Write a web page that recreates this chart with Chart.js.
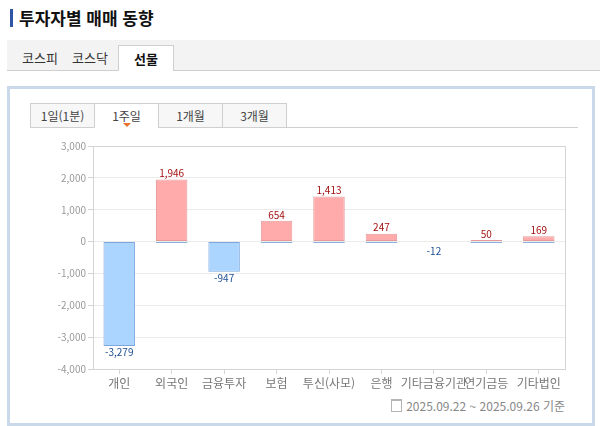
<!DOCTYPE html>
<html lang="ko">
<head>
<meta charset="utf-8">
<script src="https://cdn.jsdelivr.net/npm/chart.js@4"></script>
<style>
  body { margin: 0; width: 600px; height: 426px; overflow: hidden; background: #fff;
         font-family: "Noto Sans CJK KR", "Noto Sans", sans-serif; position: relative; }
  .title { position: absolute; left: 10px; top: 9px; font-size: 17px; font-weight: bold; color: #111;
           border-left: 3px solid #2f56a6; padding-left: 6px; line-height: 18px; }
  .mkt { position: absolute; left: 7px; top: 40px; width: 593px; height: 30px; background: #f3f3f3;
         border-bottom: 1px solid #cfcfcf; }
  .mkt span { position: absolute; top: 8px; font-size: 13px; color: #333; }
  .mkt .on { top: 5px; left: 111px; width: 54px; height: 25px; background: #fff; border: 1px solid #cfcfcf;
             border-bottom: none; text-align: center; line-height: 26px; font-weight: bold; color: #111; }
  .panel { position: absolute; left: 7px; top: 86px; width: 582px; height: 334px;
           border: 3px solid #c9d9ea; background: #fff; }
  .sub { position: absolute; left: 30px; top: 103px; width: 548px; height: 24px; border-bottom: 1px solid #cfcfcf; }
  .sub span { position: absolute; top: 0; height: 23px; width: 63px; border: 1px solid #cfcfcf; background: #f7f7f7;
              font-size: 12px; color: #444; text-align: center; line-height: 23px; box-sizing: content-box; }
  .sub .on { background: #fff; border-bottom-color: #fff; }
  .tri { position: absolute; left: 123px; top: 123px; width: 0; height: 0;
         border-left: 4px solid transparent; border-right: 4px solid transparent; border-top: 4px solid #e8702a; }
  #wrap { position: absolute; left: 40px; top: 136px; width: 540px; height: 260px; }
  .foot { position: absolute; right: 35px; top: 397px; font-size: 12px; color: #888; }
  .ico { display: inline-block; width: 9px; height: 10px; border: 1px solid #b5b5b5; border-top-width: 2px;
         vertical-align: -1px; margin-right: 4px; }
</style>
</head>
<body>
<div class="title">투자자별 매매 동향</div>
<div class="mkt">
  <span style="left:15px">코스피</span>
  <span style="left:65px">코스닥</span>
  <span class="on">선물</span>
</div>
<div class="panel"></div>
<div class="sub">
  <span style="left:0">1일(1분)</span>
  <span class="on" style="left:64px">1주일</span>
  <span style="left:128px">1개월</span>
  <span style="left:192px">3개월</span>
</div>
<div class="tri"></div>
<div id="wrap"><canvas id="c"></canvas></div>
<div class="foot"><span class="ico"></span>2025.09.22 ~ 2025.09.26 기준</div>

<script>
const categories = ['개인', '외국인', '금융투자', '보험', '투신(사모)', '은행', '기타금융기관', '연기금등', '기타법인'];
const netValues = [-3279, 1946, -947, 654, 1413, 247, -12, 50, 169];
const yTicks = [3000, 2000, 1000, 0, -1000, -2000, -3000, -4000];

const fmt = v => v.toLocaleString('en-US');

// 막대 위/아래 값 표시 + 테두리
const labelPlugin = {
  id: 'labels',
  afterDatasetsDraw(chart) {
    const ctx = chart.ctx;
    const area = chart.chartArea;
    const meta = chart.getDatasetMeta(0);
    const zeroY = chart.scales.y.getPixelForValue(0);
    ctx.save();
    ctx.font = '10px "Noto Sans CJK KR", sans-serif';
    ctx.textAlign = 'center';
    meta.data.forEach((bar, i) => {
      const v = netValues[i];
      if (v >= 0) {
        ctx.strokeStyle = '#8eb0df';
        ctx.lineWidth = 1;
        ctx.beginPath();
        ctx.moveTo(bar.x - bar.width / 2, Math.round(zeroY) + 0.5);
        ctx.lineTo(bar.x + bar.width / 2, Math.round(zeroY) + 0.5);
        ctx.stroke();
        ctx.fillStyle = '#a50f0f';
        ctx.textBaseline = 'bottom';
        ctx.fillText(fmt(v), bar.x, bar.y - 1);
      } else {
        ctx.fillStyle = '#1d4f92';
        ctx.textBaseline = 'top';
        ctx.fillText(fmt(v), bar.x, Math.max(bar.y, zeroY + 4) + 1);
      }
    });
    ctx.strokeStyle = '#d4d4d4';
    ctx.lineWidth = 1;
    ctx.strokeRect(Math.round(area.left) + 0.5, Math.round(area.top) + 0.5,
      Math.round(area.right - area.left), Math.round(area.bottom - area.top));
    ctx.restore();
  }
};

new Chart(document.getElementById('c'), {
  type: 'bar',
  data: {
    labels: categories,
    datasets: [{
      data: netValues,
      backgroundColor: netValues.map(v => v >= 0 ? '#ffabab' : '#abd5ff'),
      borderColor: netValues.map(v => v >= 0 ? '#e59a9a' : '#7ba7dc'),
      borderWidth: 1,
      borderSkipped: false,
      categoryPercentage: 0.6,
      barPercentage: 1
    }]
  },
  options: {
    responsive: true,
    maintainAspectRatio: false,
    animation: false,
    layout: { padding: { top: 10, right: 15 } },
    plugins: { legend: { display: false }, tooltip: { enabled: false } },
    scales: {
      x: {
        grid: { drawOnChartArea: false, offset: false, tickLength: 5, color: '#d4d4d4' },
        border: { color: '#d4d4d4' },
        ticks: { color: '#777', font: { size: 12, family: '"Noto Sans CJK KR"' }, padding: 2, maxRotation: 0, autoSkip: false },
        afterFit: s => { s.height = 27; }
      },
      y: {
        min: -4000, max: 3000,
        afterBuildTicks: s => { s.ticks = yTicks.map(v => ({ value: v })); },
        grid: { color: '#ebebeb', tickLength: 5, tickColor: '#d4d4d4' },
        border: { color: '#d4d4d4' },
        ticks: { color: '#999', font: { size: 10, family: '"Noto Sans CJK KR"' }, padding: 2, callback: v => fmt(v) },
        afterFit: s => { s.width = 53; }
      }
    }
  },
  plugins: [labelPlugin]
});
</script>
</body>
</html>
